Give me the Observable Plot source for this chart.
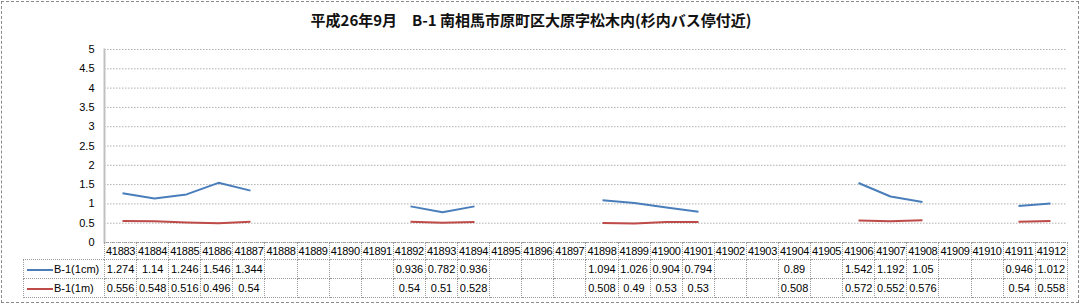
<!DOCTYPE html>
<html>
<head>
<meta charset="utf-8">
<script src="https://cdn.jsdelivr.net/npm/d3@7"></script>
<script src="https://cdn.jsdelivr.net/npm/@observablehq/plot@0.6"></script>
<style>
  html, body { margin: 0; padding: 0; background: #fff; }
  #wrap { position: relative; width: 1081px; height: 306px; overflow: hidden; font-family: "Liberation Sans", Arial, sans-serif; }
  #border { position: absolute; left: 1px; top: 1px; width: 1076px; height: 300px; border: 1px dashed #8a8a8a; }
  #title { position: absolute; top: 10px; left: 0; width: 1062px; text-align: center; font-family: "Noto Sans CJK JP", sans-serif; font-weight: bold; font-size: 15px; color: #111; line-height: 20px; }
  #chart { position: absolute; left: 0; top: 0; }
  #tbl { position: absolute; left: 23px; top: 242px; border-collapse: collapse; table-layout: fixed; font-size: 11px; color: #000; }
  #tbl td { border: 1px dotted #9a9a9a; padding: 0; text-align: center; white-space: nowrap; overflow: visible; }
  #tbl td.blank { border: none; }
  #tbl tr.hdr td { height: 16px; letter-spacing: -0.3px; }
  #tbl tr.r1 td { height: 18px; }
  #tbl tr.r2 td { height: 18px; }
  #tbl td.leg { text-align: left; padding-left: 3px; }
  .sw { display: inline-block; width: 26px; height: 2px; vertical-align: middle; margin-right: 1px; }
</style>
</head>
<body>
<div id="wrap">
  <div id="border"></div>
  <div id="chart"></div>
  <div id="title"></div>
  <table id="tbl"></table>
</div>
<script>
const titleText = "平成26年9月　B-1 南相馬市原町区大原字松木内(杉内バス停付近)";
const dates = [41883,41884,41885,41886,41887,41888,41889,41890,41891,41892,41893,41894,41895,41896,41897,41898,41899,41900,41901,41902,41903,41904,41905,41906,41907,41908,41909,41910,41911,41912];
const seriesNames = ["B-1(1cm)", "B-1(1m)"];
const seriesColors = ["#4a7ebb", "#be4b48"];
const cm1 = [1.274,1.14,1.246,1.546,1.344,null,null,null,null,0.936,0.782,0.936,null,null,null,1.094,1.026,0.904,0.794,null,null,0.89,null,1.542,1.192,1.05,null,null,0.946,1.012];
const m1  = [0.556,0.548,0.516,0.496,0.54,null,null,null,null,0.54,0.51,0.528,null,null,null,0.508,0.49,0.53,0.53,null,null,0.508,null,0.572,0.552,0.576,null,null,0.54,0.558];
const yTicks = [0,0.5,1,1.5,2,2.5,3,3.5,4,4.5,5];

document.getElementById("title").textContent = titleText;

const seriesValues = [cm1, m1];
const data = [];
seriesNames.forEach((s, k) => dates.forEach((d, i) => data.push({date: d, v: seriesValues[k][i], s})));

const chart = Plot.plot({
  width: 1081,
  height: 306,
  marginLeft: 104,
  marginRight: 14,
  marginTop: 49,
  marginBottom: 64,
  style: {fontFamily: "Liberation Sans, Arial, sans-serif", fontSize: "11px", color: "#000", background: "transparent"},
  x: {type: "point", domain: dates, padding: 0.5, axis: null},
  y: {domain: [0, 5]},
  color: {domain: seriesNames, range: seriesColors},
  marks: [
    Plot.ruleY(yTicks, {stroke: "#b0b0b0", strokeWidth: 1, strokeDasharray: "1.5,1.5"}),
    Plot.frame({anchor: "left", stroke: "#c0c0c0", strokeWidth: 2}),
    Plot.axisY({ticks: yTicks, tickSize: 0, tickPadding: 10, label: null, tickFormat: d => String(d), fill: "#000"}),
    Plot.line(data, {x: "date", y: "v", z: "s", stroke: "s", strokeWidth: 2, strokeLinecap: "butt"})
  ]
});
document.getElementById("chart").appendChild(chart);

// data table below the plot, aligned to the x categories
const tbl = document.getElementById("tbl");
const colW = (1067 - 104) / dates.length;
const cg = document.createElement("colgroup");
const c0 = document.createElement("col"); c0.style.width = "81px"; cg.appendChild(c0);
dates.forEach(() => { const c = document.createElement("col"); c.style.width = colW + "px"; cg.appendChild(c); });
tbl.appendChild(cg);
tbl.style.width = (81 + colW * dates.length) + "px";

const hdr = document.createElement("tr"); hdr.className = "hdr";
const hb = document.createElement("td"); hb.className = "blank"; hdr.appendChild(hb);
dates.forEach(d => { const td = document.createElement("td"); td.textContent = d; hdr.appendChild(td); });
tbl.appendChild(hdr);

seriesNames.forEach((s, k) => {
  const tr = document.createElement("tr"); tr.className = k === 0 ? "r1" : "r2";
  const lg = document.createElement("td"); lg.className = "leg";
  const sw = document.createElement("span"); sw.className = "sw"; sw.style.background = seriesColors[k];
  lg.appendChild(sw); lg.appendChild(document.createTextNode(s));
  tr.appendChild(lg);
  seriesValues[k].forEach(v => { const td = document.createElement("td"); td.textContent = v == null ? "" : String(v); tr.appendChild(td); });
  tbl.appendChild(tr);
});
</script>
</body>
</html>
